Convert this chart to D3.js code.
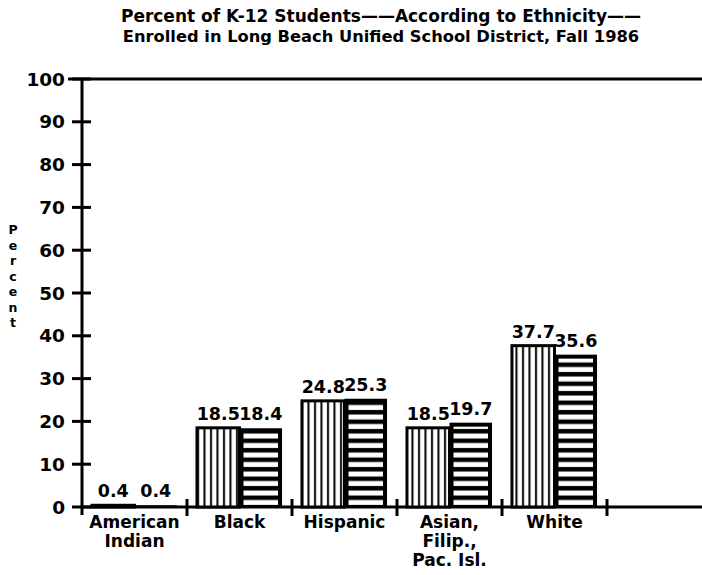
<!DOCTYPE html>
<html>
<head>
<meta charset="utf-8">
<script src="https://cdn.jsdelivr.net/npm/d3@7"></script>
<style>
    body { margin: 0; background: #fff; }
    svg text { font-family: "DejaVu Sans", sans-serif; font-weight: bold; fill: #000; }
</style>
</head>
<body>
<svg id="chart" width="702" height="575"></svg>
<script>
var categories = ["American Indian", "Black", "Hispanic", "Asian, Filip., Pac. Isl.", "White"];
var categoryLines = [["American", "Indian"], ["Black"], ["Hispanic"], ["Asian,", "Filip.,", "Pac. Isl."], ["White"]];
var seriesA = [0.4, 18.5, 24.8, 18.5, 37.7];
var seriesB = [0.4, 18.4, 25.3, 19.7, 35.6];
var yTicks = [0, 10, 20, 30, 40, 50, 60, 70, 80, 90, 100];
var titleLines = ["Percent of K-12 Students\u2014\u2014According to Ethnicity\u2014\u2014",
                  "Enrolled in Long Beach Unified School District, Fall 1986"];
var yLabel = "Percent";

var width = 702,
    height = 575,
    left = 82,
    bandW = 105;

var svg = d3.select("#chart");

var x = d3.scaleBand()
    .domain(categories)
    .range([left, left + bandW * categories.length])
    .paddingInner(0.19)
    .paddingOuter(0.095);

var y = d3.scaleLinear()
    .domain([0, 100])
    .range([507, 79]);

// hatch patterns
var defs = svg.append("defs");
var vp = defs.append("pattern")
    .attr("id", "vert")
    .attr("patternUnits", "userSpaceOnUse")
    .attr("width", 6.5)
    .attr("height", 10);
vp.append("rect").attr("width", 6.5).attr("height", 10).attr("fill", "#fff");
vp.append("rect").attr("x", 2).attr("width", 2).attr("height", 10).attr("fill", "#000");

var hp = defs.append("pattern")
    .attr("id", "horiz")
    .attr("patternUnits", "userSpaceOnUse")
    .attr("width", 10)
    .attr("height", 9.5)
    .attr("y", 507);
hp.append("rect").attr("width", 10).attr("height", 9.5).attr("fill", "#000");
hp.append("rect").attr("y", 2.5).attr("width", 10).attr("height", 5).attr("fill", "#fff");

// title
svg.append("g")
    .selectAll("text")
    .data(titleLines)
    .enter().append("text")
    .attr("x", 381)
    .attr("y", function (d, i) { return 22 + i * 20; })
    .attr("text-anchor", "middle")
    .style("font-size", function (d, i) { return i == 0 ? "17px" : "16.3px"; })
    .text(function (d) { return d; });

// frame lines
svg.append("line")
    .attr("x1", 68).attr("x2", width)
    .attr("y1", y(100)).attr("y2", y(100))
    .attr("stroke", "#000").attr("stroke-width", 3);
svg.append("line")
    .attr("x1", left).attr("x2", width)
    .attr("y1", y(0)).attr("y2", y(0))
    .attr("stroke", "#000").attr("stroke-width", 3);
svg.append("line")
    .attr("x1", left).attr("x2", left)
    .attr("y1", y(100)).attr("y2", y(0) + 8)
    .attr("stroke", "#000").attr("stroke-width", 3);

// y ticks
var yt = svg.append("g").selectAll("g")
    .data(yTicks)
    .enter().append("g")
    .attr("transform", function (d) { return "translate(0," + y(d) + ")"; });
yt.append("line")
    .attr("x1", left - 10).attr("x2", left + 9)
    .attr("stroke", "#000").attr("stroke-width", 3);
yt.append("text")
    .attr("x", left - 17)
    .attr("dy", "0.36em")
    .attr("text-anchor", "end")
    .style("font-size", "18.5px")
    .text(function (d) { return d; });

// x ticks between categories
var xTickPos = categories.map(function (c) { return x(c) - x.step() * x.paddingInner() / 2 + x.step(); });
svg.append("g").selectAll("line")
    .data(xTickPos)
    .enter().append("line")
    .attr("x1", function (d) { return d; })
    .attr("x2", function (d) { return d; })
    .attr("y1", y(0) - 8).attr("y2", y(0) + 9)
    .attr("stroke", "#000").attr("stroke-width", 3);

// y label, one letter per line
svg.append("g")
    .selectAll("text")
    .data(yLabel.split(""))
    .enter().append("text")
    .attr("x", 13)
    .attr("y", function (d, i) { return 234 + i * 15.5; })
    .attr("text-anchor", "middle")
    .style("font-size", "12.5px")
    .text(function (d) { return d; });

// bars
var half = x.bandwidth() / 2;
var groups = svg.append("g")
    .selectAll("g")
    .data(categories)
    .enter().append("g");

groups.append("rect")
    .attr("x", function (d) { return x(d); })
    .attr("y", function (d, i) { return y(seriesA[i]); })
    .attr("width", half)
    .attr("height", function (d, i) { return y(0) - y(seriesA[i]); })
    .attr("fill", "url(#vert)")
    .attr("stroke", "#000")
    .attr("stroke-width", 3);

groups.append("rect")
    .attr("x", function (d) { return x(d) + half; })
    .attr("y", function (d, i) { return y(seriesB[i]); })
    .attr("width", half)
    .attr("height", function (d, i) { return y(0) - y(seriesB[i]); })
    .attr("fill", "#000");

groups.append("rect")
    .attr("x", function (d) { return x(d) + half + 4; })
    .attr("y", function (d, i) { return y(seriesB[i]) + 4; })
    .attr("width", half - 8)
    .attr("height", function (d, i) { return Math.max(0, y(0) - y(seriesB[i]) - 6); })
    .attr("fill", "url(#horiz)");

// value labels
groups.append("text")
    .attr("x", function (d) { return x(d) + half / 2; })
    .attr("y", function (d, i) { return y(seriesA[i]) - 8; })
    .attr("text-anchor", "middle")
    .style("font-size", "17.5px")
    .text(function (d, i) { return seriesA[i].toFixed(1); });

groups.append("text")
    .attr("x", function (d) { return x(d) + half * 1.5; })
    .attr("y", function (d, i) { return y(seriesB[i]) - 8; })
    .attr("text-anchor", "middle")
    .style("font-size", "17.5px")
    .text(function (d, i) { return seriesB[i].toFixed(1); });

// category labels
groups.append("text")
    .attr("text-anchor", "middle")
    .style("font-size", "17px")
    .selectAll("tspan")
    .data(function (d, i) { return categoryLines[i].map(function (t) { return { t: t, c: d }; }); })
    .enter().append("tspan")
    .attr("x", function (d) { return x(d.c) + x.bandwidth() / 2; })
    .attr("y", function (d, j) { return 528 + j * 19; })
    .text(function (d) { return d.t; });
</script>
</body>
</html>
